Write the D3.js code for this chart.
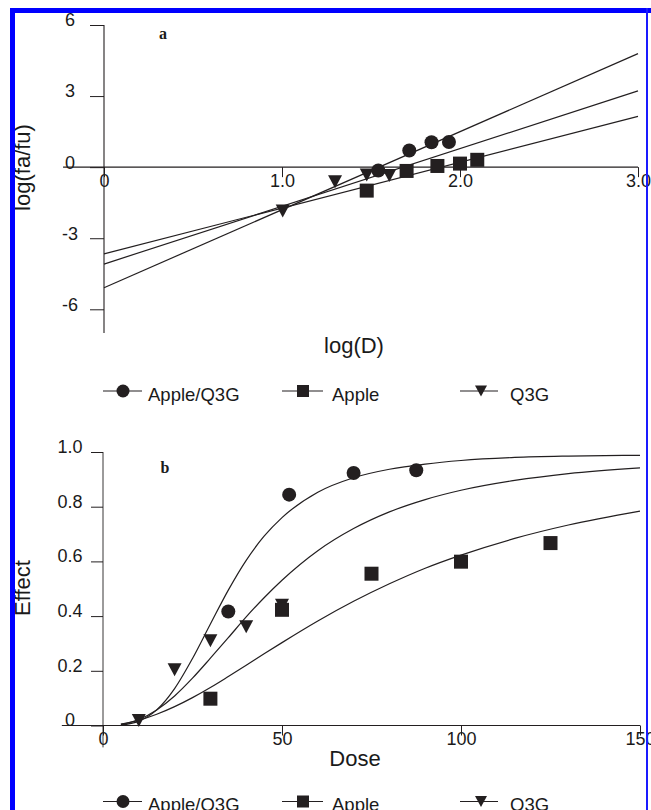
<!DOCTYPE html>
<html>
<head>
<meta charset="utf-8">
<script src="https://cdn.jsdelivr.net/npm/d3@7"></script>
<style>
  html, body { margin: 0; padding: 0; background: #fff; }
  svg { display: block; }
  text { font-family: "Liberation Sans", Arial, sans-serif; fill: #1a1a1a; }
</style>
</head>
<body>
<svg id="chart" width="651" height="810"></svg>
<script>
// ---------- DATA ----------
const seriesNames = ["Apple/Q3G", "Apple", "Q3G"];

// Panel a: median-effect plot, log(D) vs log(fa/fu)
const aLogD_AppleQ3G = [1.541, 1.715, 1.840, 1.938];
const aLogF_AppleQ3G = [-0.14, 0.70, 1.05, 1.06];
const aLogD_Apple = [1.476, 1.700, 1.873, 2.000, 2.097];
const aLogF_Apple = [-0.99, -0.16, 0.05, 0.15, 0.31];
const aLogD_Q3G = [1.004, 1.298, 1.476, 1.603];
const aLogF_Q3G = [-1.85, -0.62, -0.33, -0.35];
// fitted lines (end points at log(D)=0 and 3)
const aFitX = [0, 3];
const aFit_AppleQ3G = [-5.09, 4.79];
const aFit_Apple = [-3.66, 2.14];
const aFit_Q3G = [-4.09, 3.22];
const aXTicks = [0, 1, 2, 3];
const aXTickLabels = ["0", "1.0", "2.0", "3.0"];
const aYTicks = [6, 3, 0, -3, -6];
const aYTickLabels = ["6", "3", "0", "-3", "-6"];

// Panel b: dose-effect
const bDose_AppleQ3G = [35, 52, 70, 87.5];
const bEff_AppleQ3G = [0.417, 0.844, 0.923, 0.933];
const bDose_Apple = [30, 50, 75, 100, 125];
const bEff_Apple = [0.098, 0.423, 0.555, 0.599, 0.667];
const bDose_Q3G = [10, 20, 30, 40, 50];
const bEff_Q3G = [0.018, 0.204, 0.31, 0.361, 0.44];
// fitted curves
const bCurveDose = [5, 10, 15, 20, 25, 30, 35, 40, 45, 50, 60, 70, 80, 90, 100, 115, 130, 150];
const bCurve_AppleQ3G = [0.002, 0.016, 0.057, 0.135, 0.245, 0.371, 0.495, 0.604, 0.692, 0.760, 0.853, 0.906, 0.937, 0.956, 0.969, 0.980, 0.985, 0.988];
const bCurve_Q3G = [0.004, 0.022, 0.057, 0.108, 0.173, 0.246, 0.321, 0.397, 0.467, 0.531, 0.639, 0.720, 0.781, 0.826, 0.860, 0.896, 0.921, 0.942];
const bCurve_Apple = [0.005, 0.019, 0.041, 0.069, 0.102, 0.139, 0.179, 0.220, 0.262, 0.303, 0.382, 0.454, 0.518, 0.575, 0.623, 0.684, 0.733, 0.784];
const bXTicks = [0, 50, 100, 150];
const bXTickLabels = ["0", "50", "100", "150"];
const bYTicks = [0, 0.2, 0.4, 0.6, 0.8, 1.0];
const bYTickLabels = ["0", "0.2", "0.4", "0.6", "0.8", "1.0"];

// ---------- DRAWING ----------
const svg = d3.select("#chart");
const ink = "#231f20";

function marker(g, type, x, y, s) {
  if (type === "circle") {
    g.append("circle").attr("cx", x).attr("cy", y).attr("r", s / 2).attr("fill", ink);
  } else if (type === "square") {
    g.append("rect").attr("x", x - s / 2).attr("y", y - s / 2).attr("width", s).attr("height", s).attr("fill", ink);
  } else {
    const w = s, h = s * 0.93;
    g.append("path")
      .attr("d", `M${x - w / 2},${y - h / 2}L${x + w / 2},${y - h / 2}L${x},${y + h / 2}Z`)
      .attr("fill", ink);
  }
}

function styleAxis(g) {
  g.select(".domain").remove();
  g.selectAll(".tick line").attr("stroke", ink).attr("stroke-width", 1);
  g.selectAll(".tick text").attr("fill", "#1a1a1a").style("font-size", "18px")
    .style("font-family", '"Liberation Sans", Arial, sans-serif');
}

// ----- Panel a -----
const ax = d3.scaleLinear().domain([0, 3]).range([104, 638]);
const ay = d3.scaleLinear().domain([-7, 6]).range([333, 25]);

const gaX = svg.append("g").attr("transform", `translate(0,${ay(0)})`)
  .call(d3.axisBottom(ax).tickValues(aXTicks).tickSize(10)
    .tickFormat((d, i) => aXTickLabels[i]));
styleAxis(gaX);
gaX.selectAll(".tick text").attr("y", 20).attr("dy", 0);
svg.append("line").attr("x1", ax(-0.23)).attr("x2", ax(3)).attr("y1", ay(0)).attr("y2", ay(0))
  .attr("stroke", ink).attr("stroke-width", 1.1);

const gaY = svg.append("g").attr("transform", `translate(${ax(0)},0)`)
  .call(d3.axisLeft(ay).tickValues(aYTicks).tickSize(14)
    .tickFormat((d, i) => aYTickLabels[i]));
styleAxis(gaY);
gaY.selectAll(".tick text").attr("x", 70 - ax(0)).attr("dy", "0.05em").attr("text-anchor", "middle");
svg.append("line").attr("x1", ax(0)).attr("x2", ax(0)).attr("y1", ay(6)).attr("y2", ay(-7))
  .attr("stroke", ink).attr("stroke-width", 1.1);

const aLine = d3.line().x(d => ax(d[0])).y(d => ay(d[1]));
[aFit_AppleQ3G, aFit_Q3G, aFit_Apple].forEach(arr => {
  svg.append("path").attr("d", aLine(aFitX.map((x, i) => [x, arr[i]])))
    .attr("fill", "none").attr("stroke", ink).attr("stroke-width", 1.2);
});

const gaM = svg.append("g");
aLogD_Q3G.forEach((x, i) => marker(gaM, "triangle", ax(x), ay(aLogF_Q3G[i]), 14));
aLogD_Apple.forEach((x, i) => marker(gaM, "square", ax(x), ay(aLogF_Apple[i]), 14));
aLogD_AppleQ3G.forEach((x, i) => marker(gaM, "circle", ax(x), ay(aLogF_AppleQ3G[i]), 14));

svg.append("text").attr("x", 163).attr("y", 38.5).attr("text-anchor", "middle")
  .style("font-family", '"Liberation Serif", "Times New Roman", serif')
  .style("font-weight", "bold").style("font-size", "16px").text("a");
svg.append("text").attr("x", 354).attr("y", 353).attr("text-anchor", "middle")
  .style("font-size", "22px").text("log(D)");
svg.append("text").attr("transform", "translate(29.5,167.5) rotate(-90)").attr("text-anchor", "middle")
  .style("font-size", "22px").text("log(fa/fu)");

// ----- Legends -----
function legend(cy) {
  const g = svg.append("g");
  const items = [
    { type: "circle", x1: 103, x2: 142, cx: 123, s: 13, tx: 148 },
    { type: "square", x1: 282, x2: 323, cx: 303, s: 12, tx: 332 },
    { type: "triangle", x1: 460, x2: 498, cx: 481, s: 12, tx: 510 }
  ];
  items.forEach((it, i) => {
    g.append("line").attr("x1", it.x1).attr("x2", it.x2).attr("y1", cy).attr("y2", cy)
      .attr("stroke", ink).attr("stroke-width", 1.2);
    marker(g, it.type, it.cx, cy, it.s);
    g.append("text").attr("x", it.tx).attr("y", cy + 9.5).style("font-size", "18.5px").text(seriesNames[i]);
  });
}
legend(391);
legend(801.5);

// ----- Panel b -----
const bx = d3.scaleLinear().domain([0, 150]).range([103, 640]);
const by = d3.scaleLinear().domain([0, 1]).range([725.5, 452]);

const gbX = svg.append("g").attr("transform", `translate(0,${by(0)})`)
  .call(d3.axisBottom(bx).tickValues(bXTicks).tickSize(10)
    .tickFormat((d, i) => bXTickLabels[i]));
styleAxis(gbX);
gbX.selectAll(".tick text").attr("y", 19).attr("dy", 0);
svg.append("line").attr("x1", bx(-11.5)).attr("x2", bx(150)).attr("y1", by(0)).attr("y2", by(0))
  .attr("stroke", ink).attr("stroke-width", 1.1);

const gbY = svg.append("g").attr("transform", `translate(${bx(0)},0)`)
  .call(d3.axisLeft(by).tickValues(bYTicks).tickSize(12)
    .tickFormat((d, i) => bYTickLabels[i]));
styleAxis(gbY);
gbY.selectAll(".tick text").attr("x", 70 - bx(0)).attr("dy", "0.02em").attr("text-anchor", "middle");
svg.append("line").attr("x1", bx(0)).attr("x2", bx(0)).attr("y1", by(1)).attr("y2", by(-0.08))
  .attr("stroke", ink).attr("stroke-width", 0.9);

const bLine = d3.line().x(d => bx(d[0])).y(d => by(d[1])).curve(d3.curveMonotoneX);
[bCurve_AppleQ3G, bCurve_Q3G, bCurve_Apple].forEach(arr => {
  svg.append("path").attr("d", bLine(bCurveDose.map((x, i) => [x, arr[i]])))
    .attr("fill", "none").attr("stroke", ink).attr("stroke-width", 1.2);
});

const gbM = svg.append("g");
bDose_Q3G.forEach((x, i) => marker(gbM, "triangle", bx(x), by(bEff_Q3G[i]), 14));
bDose_Apple.forEach((x, i) => marker(gbM, "square", bx(x), by(bEff_Apple[i]), 14));
bDose_AppleQ3G.forEach((x, i) => marker(gbM, "circle", bx(x), by(bEff_AppleQ3G[i]), 14));

svg.append("text").attr("x", 165).attr("y", 473).attr("text-anchor", "middle")
  .style("font-family", '"Liberation Serif", "Times New Roman", serif')
  .style("font-weight", "bold").style("font-size", "16px").text("b");
svg.append("text").attr("x", 355).attr("y", 766).attr("text-anchor", "middle")
  .style("font-size", "22px").text("Dose");
svg.append("text").attr("transform", "translate(30,588) rotate(-90)").attr("text-anchor", "middle")
  .style("font-size", "22px").text("Effect");

// ----- Blue frame (drawn last, on top) -----
svg.append("rect").attr("x", 10).attr("y", 8).attr("width", 641).attr("height", 5).attr("fill", "#0000ff");
svg.append("rect").attr("x", 10).attr("y", 8).attr("width", 5).attr("height", 802).attr("fill", "#0000ff");
svg.append("rect").attr("x", 646).attr("y", 8).attr("width", 2).attr("height", 802).attr("fill", "#1a1aff");
</script>
</body>
</html>
